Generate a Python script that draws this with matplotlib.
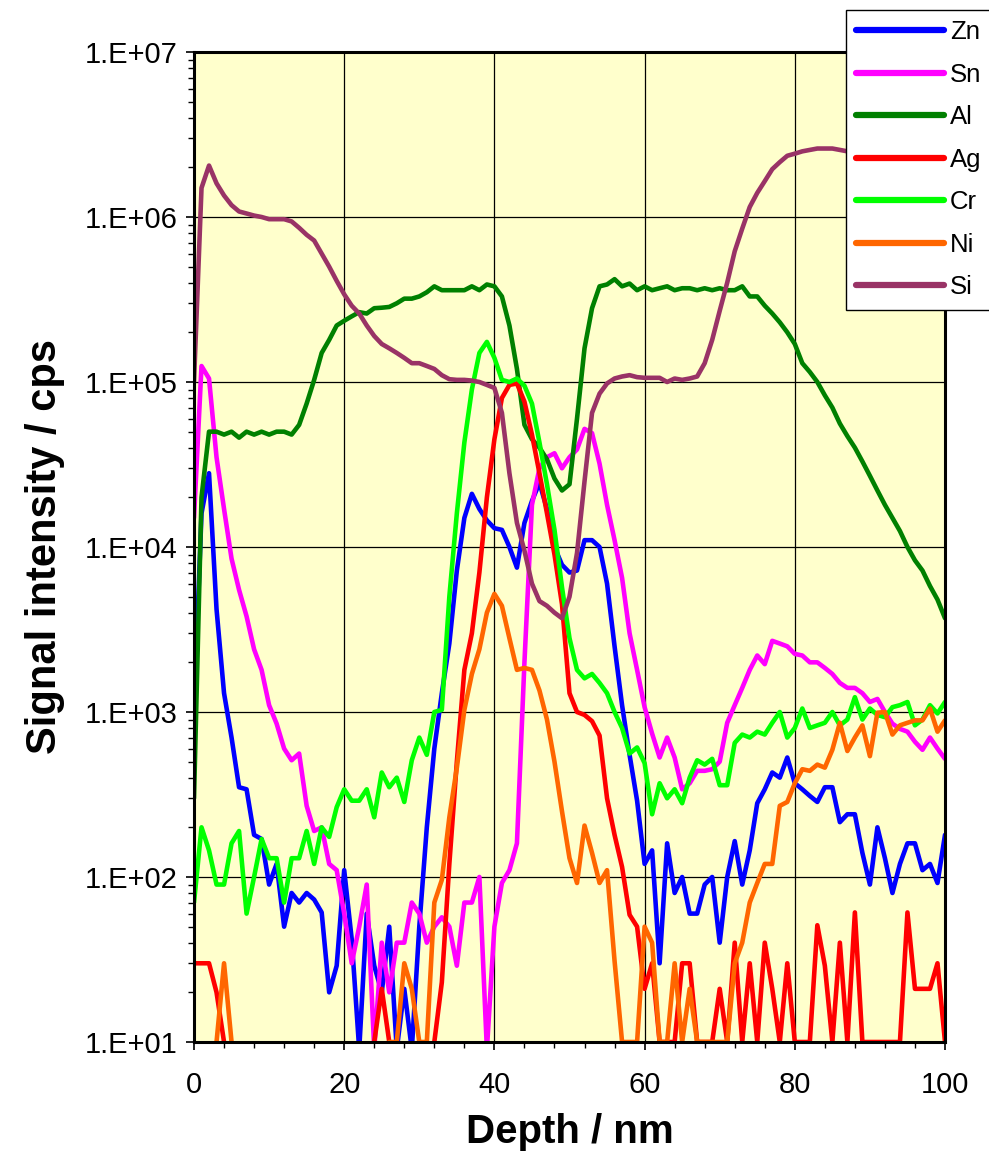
import numpy as np
import matplotlib

matplotlib.use('Agg')
import matplotlib.pyplot as plt
from matplotlib.ticker import FixedLocator, FuncFormatter, LogLocator, NullFormatter

plt.rcParams['font.family'] = ['Liberation Sans', 'DejaVu Sans']

# Depth axis (nm), one point per nm
depth = np.arange(0, 101)

# Signal intensities (cps), 0 = no counts (not drawn on log axis)
zn = [1.0e3, 1.6e4, 2.8e4, 4.2e3, 1.3e3, 7.0e2, 3.5e2, 3.4e2, 1.8e2, 1.7e2,
      9.0e1, 1.2e2, 5.0e1, 8.0e1, 7.0e1, 8.0e1, 7.3e1, 6.1e1, 2.0e1, 2.9e1,
      1.1e2, 4.2e1, 9.0, 6.0e1, 2.9e1, 2.0e1, 5.0e1, 9.0, 2.1e1, 9.0,
      5.0e1, 2.0e2, 6.0e2, 1.3e3, 2.6e3, 7.2e3, 1.5e4, 2.1e4, 1.7e4, 1.45e4,
      1.3e4, 1.27e4, 1.0e4, 7.5e3, 1.4e4, 1.9e4, 2.45e4, 1.7e4, 1.0e4, 7.8e3,
      7.0e3, 7.2e3, 1.1e4, 1.1e4, 1.0e4, 6.0e3, 2.5e3, 1.1e3, 5.5e2, 2.9e2,
      1.2e2, 1.45e2, 3.0e1, 1.6e2, 8.0e1, 1.0e2, 6.0e1, 6.0e1, 9.0e1, 1.0e2,
      4.0e1, 1.0e2, 1.65e2, 9.0e1, 1.45e2, 2.8e2, 3.4e2, 4.3e2, 4.0e2, 5.3e2,
      3.7e2, 3.4e2, 3.1e2, 2.85e2, 3.5e2, 3.5e2, 2.15e2, 2.4e2, 2.4e2, 1.4e2,
      9.0e1, 2.0e2, 1.3e2, 8.0e1, 1.2e2, 1.6e2, 1.6e2, 1.1e2, 1.2e2, 9.2e1,
      1.8e2]

sn = [1.5e4, 1.25e5, 1.05e5, 3.5e4, 1.7e4, 8.5e3, 5.5e3, 3.8e3, 2.4e3, 1.8e3,
      1.1e3, 8.5e2, 6.0e2, 5.1e2, 5.6e2, 2.7e2, 1.9e2, 2.0e2, 1.2e2, 1.1e2,
      6.0e1, 3.0e1, 5.0e1, 9.0e1, 9.0, 4.0e1, 2.0e1, 4.0e1, 4.0e1, 7.0e1,
      6.0e1, 4.0e1, 5.0e1, 5.7e1, 5.0e1, 2.9e1, 7.0e1, 7.0e1, 1.0e2, 9.0,
      5.0e1, 9.2e1, 1.1e2, 1.6e2, 2.0e3, 1.8e4, 3.0e4, 3.5e4, 3.7e4, 3.0e4,
      3.5e4, 3.9e4, 5.2e4, 4.9e4, 3.2e4, 1.8e4, 1.1e4, 6.5e3, 3.0e3, 1.8e3,
      1.07e3, 7.4e2, 5.3e2, 7.0e2, 5.3e2, 3.4e2, 3.7e2, 4.4e2, 4.4e2, 4.5e2,
      5.0e2, 8.6e2, 1.1e3, 1.4e3, 1.8e3, 2.2e3, 1.95e3, 2.7e3, 2.6e3, 2.5e3,
      2.25e3, 2.2e3, 2.0e3, 2.0e3, 1.85e3, 1.7e3, 1.5e3, 1.4e3, 1.4e3, 1.3e3,
      1.15e3, 1.2e3, 1.0e3, 8.5e2, 7.9e2, 7.6e2, 6.6e2, 5.9e2, 7.0e2, 6.0e2,
      5.2e2]

al = [3.0e2, 2.0e4, 5.0e4, 5.0e4, 4.8e4, 5.0e4, 4.6e4, 5.0e4, 4.8e4, 5.0e4,
      4.8e4, 5.0e4, 5.0e4, 4.8e4, 5.5e4, 7.4e4, 1.03e5, 1.5e5, 1.8e5, 2.2e5,
      2.35e5, 2.5e5, 2.65e5, 2.6e5, 2.8e5, 2.82e5, 2.85e5, 3.0e5, 3.2e5, 3.2e5,
      3.3e5, 3.5e5, 3.8e5, 3.6e5, 3.6e5, 3.6e5, 3.6e5, 3.8e5, 3.6e5, 3.9e5,
      3.8e5, 3.3e5, 2.2e5, 1.2e5, 5.5e4, 4.5e4, 4.0e4, 3.4e4, 2.6e4, 2.2e4,
      2.4e4, 6.0e4, 1.6e5, 2.8e5, 3.8e5, 3.9e5, 4.2e5, 3.8e5, 3.95e5, 3.6e5,
      3.8e5, 3.6e5, 3.7e5, 3.8e5, 3.6e5, 3.7e5, 3.7e5, 3.6e5, 3.7e5, 3.6e5,
      3.7e5, 3.6e5, 3.6e5, 3.8e5, 3.3e5, 3.3e5, 2.9e5, 2.6e5, 2.3e5, 2.0e5,
      1.7e5, 1.3e5, 1.15e5, 1.0e5, 8.3e4, 7.0e4, 5.6e4, 4.7e4, 4.0e4, 3.3e4,
      2.7e4, 2.2e4, 1.8e4, 1.5e4, 1.25e4, 1.0e4, 8.3e3, 7.2e3, 5.8e3, 4.8e3,
      3.7e3]

ag = [30, 30, 30, 20, 10, 0, 0, 0, 0, 0,
      0, 0, 0, 0, 0, 0, 0, 0, 0, 0,
      0, 0, 0, 0, 10, 21, 10, 0, 0, 0,
      0, 0, 10, 23, 1.2e2, 5.0e2, 1.8e3, 3.0e3, 7.0e3, 2.0e4,
      4.5e4, 8.0e4, 9.6e4, 9.8e4, 7.6e4, 4.8e4, 2.8e4, 1.6e4, 9.0e3, 4.5e3,
      1.3e3, 1.0e3, 9.6e2, 8.8e2, 7.2e2, 3.0e2, 1.8e2, 1.15e2, 5.9e1, 5.0e1,
      21, 30, 10, 10, 10, 30, 30, 10, 10, 10,
      21, 10, 40, 10, 30, 10, 40, 21, 10, 30,
      10, 10, 10, 51, 29, 10, 40, 10, 61, 10,
      10, 10, 10, 10, 10, 61, 21, 21, 21, 30,
      10]

cr = [7.0e1, 2.0e2, 1.45e2, 9.0e1, 9.0e1, 1.6e2, 1.9e2, 6.0e1, 1.0e2, 1.7e2,
      1.3e2, 1.3e2, 7.0e1, 1.3e2, 1.3e2, 1.9e2, 1.2e2, 2.0e2, 1.75e2, 2.65e2,
      3.4e2, 2.9e2, 2.9e2, 3.4e2, 2.3e2, 4.3e2, 3.5e2, 4.0e2, 2.85e2, 5.1e2,
      7.0e2, 5.5e2, 1.0e3, 1.03e3, 5.0e3, 1.6e4, 4.3e4, 9.0e4, 1.5e5, 1.75e5,
      1.4e5, 1.03e5, 1.0e5, 1.05e5, 9.5e4, 7.4e4, 4.3e4, 2.4e4, 1.27e4, 5.7e3,
      2.8e3, 1.8e3, 1.6e3, 1.7e3, 1.5e3, 1.3e3, 1.0e3, 8.0e2, 5.6e2, 6.1e2,
      4.9e2, 2.4e2, 3.7e2, 3.0e2, 3.4e2, 2.8e2, 4.0e2, 5.1e2, 4.8e2, 5.2e2,
      3.6e2, 3.6e2, 6.5e2, 7.3e2, 7.0e2, 7.6e2, 7.3e2, 8.6e2, 1.0e3, 7.0e2,
      8.0e2, 1.05e3, 8.0e2, 8.3e2, 8.6e2, 1.0e3, 8.3e2, 9.0e2, 1.23e3, 9.0e2,
      1.05e3, 9.6e2, 9.3e2, 1.07e3, 1.1e3, 1.15e3, 8.3e2, 9.0e2, 1.1e3, 9.8e2,
      1.15e3]

ni = [0, 0, 0, 10, 30, 10, 0, 0, 0, 0,
      0, 0, 0, 0, 0, 0, 0, 0, 0, 0,
      0, 0, 0, 0, 0, 0, 10, 10, 30, 21,
      10, 10, 7.0e1, 9.6e1, 2.3e2, 4.6e2, 1.03e3, 1.7e3, 2.4e3, 4.0e3,
      5.2e3, 4.4e3, 2.8e3, 1.8e3, 1.85e3, 1.8e3, 1.35e3, 9.0e2, 5.0e2, 2.5e2,
      1.3e2, 9.2e1, 2.05e2, 1.4e2, 9.2e1, 1.1e2, 3.1e1, 10, 10, 10,
      50, 40, 10, 10, 30, 10, 21, 10, 10, 10,
      10, 10, 30, 40, 70, 92, 1.2e2, 1.2e2, 2.7e2, 2.85e2,
      3.7e2, 4.5e2, 4.4e2, 4.8e2, 4.6e2, 5.9e2, 8.6e2, 5.8e2, 7.0e2, 8.3e2,
      5.4e2, 9.9e2, 1.0e3, 7.3e2, 8.3e2, 8.6e2, 8.9e2, 8.9e2, 1.05e3, 7.6e2,
      8.9e2]

si = [1.0e5, 1.5e6, 2.05e6, 1.6e6, 1.35e6, 1.18e6, 1.08e6, 1.05e6, 1.02e6, 1.0e6,
      9.7e5, 9.7e5, 9.7e5, 9.4e5, 8.6e5, 7.8e5, 7.2e5, 6.0e5, 5.0e5, 4.1e5,
      3.4e5, 2.9e5, 2.6e5, 2.2e5, 1.9e5, 1.7e5, 1.6e5, 1.5e5, 1.4e5, 1.3e5,
      1.3e5, 1.25e5, 1.2e5, 1.1e5, 1.04e5, 1.03e5, 1.03e5, 1.02e5, 1.0e5, 9.6e4,
      9.2e4, 6.5e4, 2.8e4, 1.4e4, 9.5e3, 6.0e3, 4.7e3, 4.4e3, 4.0e3, 3.7e3,
      5.0e3, 9.2e3, 2.5e4, 6.5e4, 8.5e4, 9.8e4, 1.05e5, 1.08e5, 1.1e5, 1.07e5,
      1.06e5, 1.06e5, 1.06e5, 1.0e5, 1.05e5, 1.03e5, 1.05e5, 1.08e5, 1.3e5, 1.8e5,
      2.7e5, 4.0e5, 6.2e5, 8.5e5, 1.15e6, 1.4e6, 1.65e6, 1.95e6, 2.15e6, 2.35e6,
      2.42e6, 2.5e6, 2.55e6, 2.6e6, 2.6e6, 2.6e6, 2.55e6, 2.5e6, 2.5e6, 2.5e6,
      2.5e6, 2.5e6, 2.5e6, 2.5e6, 2.5e6, 2.5e6, 2.5e6, 2.5e6, 2.5e6, 2.5e6,
      2.5e6]

labels = ['Zn', 'Sn', 'Al', 'Ag', 'Cr', 'Ni', 'Si']
colors = ['#0000FF', '#FF00FF', '#008000', '#FF0000', '#00FF00', '#FF6600', '#993366']
series = [zn, sn, al, ag, cr, ni, si]

fig = plt.figure(figsize=(9.89, 11.54), dpi=100)
ax = fig.add_axes([194 / 989, 1 - 1042 / 1154, (945 - 194) / 989, (1042 - 52) / 1154])
ax.set_facecolor('#FFFFCC')

for vals, lab, col in zip(series, labels, colors):
    y = np.array(vals, dtype=float)
    y[y <= 0] = np.nan
    ax.plot(depth, y, color=col, lw=3.3, label=lab, solid_joinstyle='round',
            solid_capstyle='round')

ax.set_yscale('log')
ax.set_ylim(10, 1e7)
ax.set_xlim(0, 100)

ax.xaxis.set_major_locator(FixedLocator([0, 20, 40, 60, 80, 100]))
ax.xaxis.set_minor_locator(FixedLocator(np.arange(0, 101, 4)))
ax.xaxis.set_minor_formatter(NullFormatter())
ax.yaxis.set_major_locator(LogLocator(base=10, numticks=10))
ax.yaxis.set_minor_locator(LogLocator(base=10, subs=np.arange(2, 10), numticks=20))
ax.yaxis.set_minor_formatter(NullFormatter())
ax.yaxis.set_major_formatter(FuncFormatter(lambda v, p: '1.E+%02d' % int(round(np.log10(v)))))

ax.tick_params(axis='both', which='major', direction='out', length=6, width=1.2,
               labelsize=21, color='black')
ax.tick_params(axis='both', which='minor', direction='out', length=4, width=1.0, color='black')
ax.tick_params(axis='x', which='major', pad=15)
ax.tick_params(axis='y', which='major', pad=6)

ax.grid(True, which='major', color='black', lw=0.9)
ax.set_axisbelow(True)
for s in ax.spines.values():
    s.set_linewidth(2.2)
    s.set_color('black')
    s.set_zorder(5)

ax.set_xlabel('Depth / nm', fontsize=29, fontweight='bold', labelpad=10)
ax.set_ylabel('Signal intensity / cps', fontsize=30, fontweight='bold', labelpad=14)

leg = fig.legend(loc='upper left', bbox_to_anchor=(846 / 989, 1 - 10 / 1154),
                 borderaxespad=0, fontsize=18.5, handlelength=3.4, handletextpad=0.25,
                 labelspacing=0.72, borderpad=0.4, fancybox=False, framealpha=1)
leg.get_frame().set_edgecolor('black')
leg.get_frame().set_linewidth(1.0)
for line in leg.get_lines():
    line.set_linewidth(4.5)

fig.savefig('out.png', dpi=100, facecolor='white')
